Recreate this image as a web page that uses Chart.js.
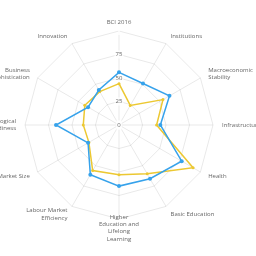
<!DOCTYPE html>
<html>
<head>
<meta charset="utf-8">
<script src="https://cdn.jsdelivr.net/npm/chart.js@4/dist/chart.umd.min.js"></script>
<style>
  html, body { margin: 0; padding: 0; background: #fff; overflow: hidden; }
  #wrap { position: absolute; left: 0; top: 0; width: 256px; height: 256px; }
</style>
</head>
<body>
<div id="wrap"><canvas id="radar"></canvas></div>
<script>
const categories = [
    'BCI 2016', 'Institutions', ['Macroeconomic', 'Stability'], 'Infrastructure',
    'Health', 'Basic Education', ['Higher', 'Education and', 'Lifelong', 'Learning'],
    ['Labour Market', 'Efficiency'], 'Market Size', ['Technological', 'Readiness'],
    ['Business', 'Sophistication'], 'Innovation'
];
const blueValues = [56, 51, 62, 44, 77, 66, 65, 61, 38, 67, 38, 43];
const yellowValues = [44, 24, 54, 40, 91, 60, 53, 56, 37, 38, 42, 41];
const tickLabels = [0, 25, 50, 75];

const FONT = '6px "Open Sans"';
const LINE_H = 7.2;

// category labels: block centred on the point just outside the ring,
// aligned away from the middle (older radar layout)
const outerLabels = {
    id: 'outerLabels',
    afterDraw(chart) {
        const r = chart.scales.r;
        const c = chart.ctx;
        const n = categories.length;
        c.save();
        c.font = FONT;
        c.fillStyle = '#666';
        c.textBaseline = 'middle';
        categories.forEach((lab, i) => {
            const lines = Array.isArray(lab) ? lab : [lab];
            const p = r.getPointPosition(i, r.drawingArea + 9);
            const deg = Math.round(i * 360 / n);
            c.textAlign = (deg === 0 || deg === 180) ? 'center' : (deg < 180 ? 'left' : 'right');
            const y0 = p.y - (lines.length - 1) * LINE_H / 2;
            lines.forEach((t, k) => c.fillText(t, p.x, y0 + k * LINE_H));
        });

        // v4 skips the tick label at the centre, put the "0" back
        c.textAlign = 'center';
        const z = String(tickLabels[0]);
        const w = c.measureText(z).width;
        c.fillStyle = '#fff';
        c.fillRect(r.xCenter - w / 2 - 1, r.yCenter - 4.6, w + 2, 9.2);
        c.fillStyle = '#666';
        c.fillText(z, r.xCenter, r.yCenter);
        c.restore();
    }
};

new Chart(document.getElementById('radar').getContext('2d'), {
    type: 'radar',
    data: {
        labels: categories,
        datasets: [{
            label: 'Series A',
            data: blueValues,
            borderColor: 'rgb(54, 162, 235)',
            backgroundColor: 'rgb(54, 162, 235)',
            borderWidth: 1.5,
            pointRadius: 2,
            pointBorderWidth: 0,
            fill: false
        }, {
            label: 'Series B',
            data: yellowValues,
            borderColor: 'rgb(236, 200, 50)',
            backgroundColor: 'rgb(236, 200, 50)',
            borderWidth: 1.5,
            pointRadius: 1.5,
            pointBorderWidth: 0,
            fill: false
        }]
    },
    options: {
        responsive: true,
        maintainAspectRatio: false,
        animation: false,
        layout: { padding: { left: 21, right: 39, top: 27, bottom: 33 } },
        plugins: {
            legend: { display: false },
            tooltip: { enabled: false }
        },
        scales: {
            r: {
                min: 0,
                max: 100,
                ticks: {
                    stepSize: 25,
                    color: '#666',
                    font: { family: 'Open Sans', size: 6 },
                    backdropPadding: 1,
                    callback: v => tickLabels.includes(v) ? String(v) : ''
                },
                grid: { color: 'rgba(0,0,0,0.09)' },
                angleLines: { color: 'rgba(0,0,0,0.09)' },
                pointLabels: { display: false }
            }
        }
    },
    plugins: [outerLabels]
});
</script>
</body>
</html>
